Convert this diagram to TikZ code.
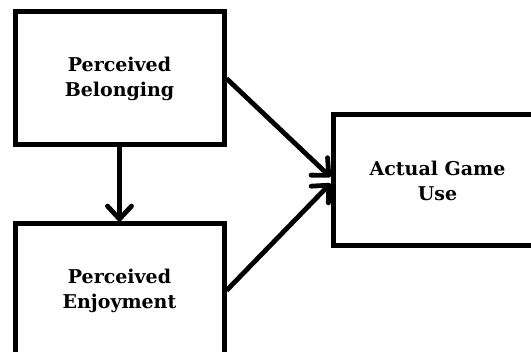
\documentclass[tikz,border=0pt]{standalone}
\usepackage{fontspec}
\setmainfont{DejaVu Serif}
\usetikzlibrary{arrows.meta,calc}
\tikzset{
  box/.style={draw=black, line width=5pt, fill=white, align=center,
    font=\bfseries\fontsize{19}{25}\selectfont, inner sep=0pt},
  conn/.style={draw=black, line width=4.8pt,
    -{Straight Barb[length=13pt,width=24pt,line cap=round,line join=round]}}
}
\begin{document}
\begin{tikzpicture}[x=1pt,y=-1pt]
\useasboundingbox (0,0) rectangle (531,352);
\clip (0,0) rectangle (531,352);
\fill[white] (0,0) rectangle (531,352);
\node[box, minimum width=209pt, minimum height=133pt] (pb) at (119.5,78.5) {Perceived\\Belonging};
\node[box, minimum width=209pt, minimum height=133pt] (pe) at (119.5,290.5) {Perceived\\Enjoyment};
\node[box, minimum width=209pt, minimum height=131pt] (agu) at (437.5,180.5) {Actual Game\\Use};
\coordinate (t1) at ($(agu.west)+(0,-3.5)$);
\coordinate (t2) at ($(agu.west)+(0,3)$);
\draw[conn] (pb.south) -- (pe.north);
\draw[conn] (pb.east) -- (t1);
\draw[conn] (pe.east) -- (t2);
\end{tikzpicture}
\end{document}
